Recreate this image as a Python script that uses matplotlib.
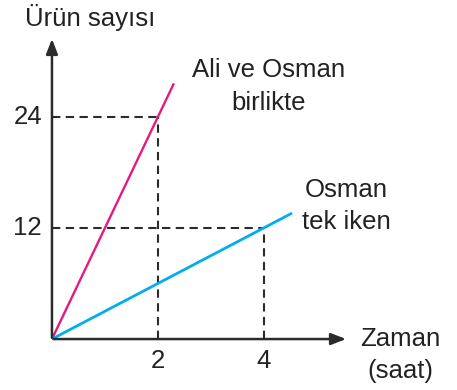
import numpy as np
import matplotlib.pyplot as plt

plt.rcParams['font.family'] = ['Liberation Sans', 'DejaVu Sans']

# data
saat = [0, 2.3]
ali_osman = [0, 27.6]        # 12 urun / saat
saat_osman = [0, 4.53]
osman = [0, 13.6]            # 3 urun / saat
xticks = [2, 4]
yticks = [12, 24]
ref_points = [(2, 24), (4, 12)]

fig = plt.figure(figsize=(4.57, 3.9), dpi=100)
ax = fig.add_axes([0, 0, 1, 1])
ax.set_xlim(-0.98, 7.64)
ax.set_ylim(-5.5, 36.6)
ax.axis('off')

axis_col = '#2b2b2b'
# dashed guides
for px, py in ref_points:
    ax.plot([0, px], [py, py], color=axis_col, lw=1.5, ls=(0, (4, 2.6)), zorder=1)
    ax.plot([px, px], [0, py], color=axis_col, lw=1.5, ls=(0, (4, 2.6)), zorder=1)

ax.plot(saat, ali_osman, color='#e8197d', lw=1.7, zorder=3, solid_capstyle='butt')
ax.plot(saat_osman, osman, color='#00aeef', lw=2.0, zorder=3, solid_capstyle='butt')

# axes with arrows
ax.annotate('', xy=(5.6, 0), xytext=(-0.02, 0),
            arrowprops=dict(arrowstyle='-|>,head_length=0.9,head_width=0.35', color=axis_col, lw=1.8))
ax.annotate('', xy=(0, 32.7), xytext=(0, -0.15),
            arrowprops=dict(arrowstyle='-|>,head_length=0.9,head_width=0.35', color=axis_col, lw=1.8))

fs = 18.5
tc = '#222'
for t in xticks:
    ax.text(t, -1.1, str(t), ha='center', va='top', fontsize=fs, color=tc)
for t in yticks:
    ax.text(-0.19, t, str(t), ha='right', va='center', fontsize=fs, color=tc)

ax.text(0.72, 34.7, 'Ürün sayısı', ha='center', va='center', fontsize=fs, color=tc)
ax.text(6.57, 0, 'Zaman', ha='center', va='center', fontsize=fs, color=tc)
ax.text(6.57, -3.4, '(saat)', ha='center', va='center', fontsize=fs, color=tc)
ax.text(4.08, 29.0, 'Ali ve Osman', ha='center', va='center', fontsize=fs, color=tc)
ax.text(4.08, 25.5, 'birlikte', ha='center', va='center', fontsize=fs, color=tc)
ax.text(5.56, 16.1, 'Osman', ha='center', va='center', fontsize=fs, color=tc)
ax.text(5.56, 12.6, 'tek iken', ha='center', va='center', fontsize=fs, color=tc)

fig.savefig('out.png', dpi=100)
